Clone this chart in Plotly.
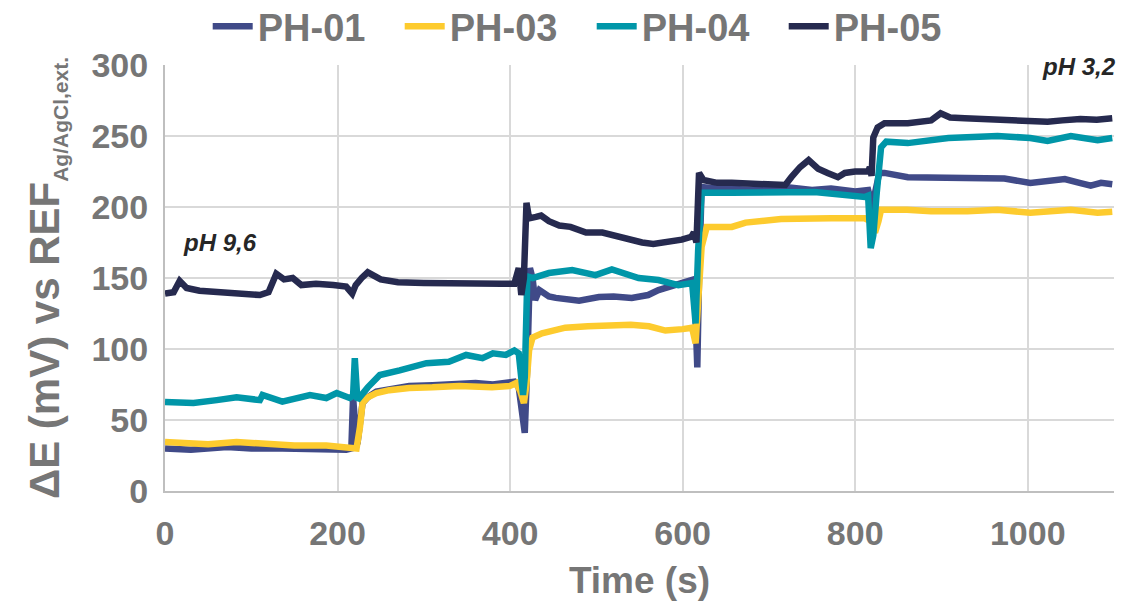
import plotly.graph_objects as go

# ── data ──────────────────────────────────────────────────────────────────────
t_ph01 = [0, 30, 72, 100, 136, 160, 187, 210, 216, 218, 220, 223, 229, 235, 245, 260, 283,
          310, 341, 360, 380, 405, 410, 413, 417, 420, 423, 426, 429, 434, 445, 453, 480,
          503, 520, 541, 560, 572, 590, 611, 614, 617, 619, 622, 640, 657, 690, 719, 750,
          772, 800, 815, 818, 820, 823, 828, 834, 861, 890, 927, 950, 973, 1003, 1020,
          1043, 1060, 1073, 1085, 1098]
v_ph01 = [30, 29, 31, 30, 30, 29.5, 29, 29, 30, 66, 50, 33, 62, 66, 70, 72, 74,
          74.5, 75.5, 76, 75, 77, 73, 60, 41, 90, 157, 150, 134.5, 141.5, 137, 136, 134,
          136.6, 137, 136, 138, 141.5, 145, 148.6, 140, 87, 150, 214, 213, 213, 212, 214, 212,
          213, 211, 212, 205, 195, 210, 224, 224, 221, 221, 221, 220, 220, 217, 218,
          219.7, 217, 215, 217, 216]

t_ph03 = [0, 30, 50, 83, 120, 150, 187, 215, 222, 226, 229, 235, 245, 260, 283, 310, 341,
          379, 400, 407, 412, 416, 419, 422, 426, 437, 464, 490, 514, 540, 561, 580, 600,
          611, 615, 619, 622, 628, 657, 673, 714, 772, 811, 818, 823, 827, 830, 860, 888,
          930, 965, 1003, 1050, 1081, 1098]
v_ph03 = [34.5, 33, 33, 34.5, 33, 32, 32, 31, 30, 45, 62, 66, 69, 71, 72.5, 73, 74,
          73, 74, 76, 70, 62, 75, 99, 108, 111, 115, 116, 117, 117, 116, 113, 114,
          115, 104, 150, 172, 186, 186, 189, 191.5, 192, 192, 190, 182, 190, 198, 198, 197,
          197, 198, 196, 198, 196, 196.7]

t_ph04 = [0, 33, 60, 83, 110, 113, 136, 168, 187, 199, 214, 218, 220, 223, 235, 249, 272,
          303, 329, 349, 368, 380, 395, 405, 410, 415, 417, 420, 426, 445, 472, 499, 518,
          549, 572, 595, 611, 615, 618, 622, 657, 714, 753, 811, 815, 818, 821, 825, 830,
          836, 861, 908, 965, 1003, 1023, 1050, 1081, 1098]
v_ph04 = [62.7, 62, 64, 66, 64, 67.6, 63, 67.6, 65.5, 69, 65.5, 67, 93.6, 64, 73, 81.7, 85,
          90, 91, 95.8, 93.6, 97, 95.8, 99, 97, 67.6, 80, 151, 150, 153.5, 155.6, 152, 156,
          150, 148.6, 145, 146.5, 118, 170, 210, 210, 210.5, 210.5, 207, 208, 171, 180, 210, 242,
          246, 245, 248.6, 250, 248.6, 246.5, 250, 247, 248.6]

t_ph05 = [0, 10, 17, 25, 40, 60, 80, 100, 110, 120, 129, 138, 148, 158, 175, 195, 210, 217,
          221, 228, 235, 250, 270, 300, 330, 360, 390, 405, 408, 410, 413, 416, 419, 422,
          430, 436, 445, 457, 470, 488, 507, 520, 534, 553, 566, 580, 599, 610, 613, 616,
          619, 624, 640, 657, 690, 719, 726, 736, 746, 757, 768, 780, 788, 800, 815, 817,
          819, 821, 826, 834, 861, 875, 888, 899, 910, 927, 945, 965, 990, 1023, 1040,
          1061, 1080, 1098]
v_ph05 = [139, 140, 148, 143, 141, 140, 139, 138.5, 138, 140, 153, 149, 150, 145, 146, 145, 144, 139,
          145, 150, 154, 149, 147, 146.5, 146, 145.5, 146, 146, 152, 157, 138, 150, 203, 192,
          193, 194, 190, 187, 186, 182, 182, 180, 177, 175, 174, 175, 177, 179, 182, 175,
          224, 219, 217, 217, 216, 215.5, 221, 228, 233, 227, 224, 221, 224, 225, 225, 228,
          222, 249, 256, 259, 259, 260, 261, 266, 263, 262.5, 262, 261, 260.5, 260, 261,
          262, 261.5, 262.5]

series = [
    ("PH-01", t_ph01, v_ph01, "#404A88"),
    ("PH-03", t_ph03, v_ph03, "#FDCB2E"),
    ("PH-04", t_ph04, v_ph04, "#0096A8"),
    ("PH-05", t_ph05, v_ph05, "#262A4F"),
]

GREY = "#767676"
FONT = "Liberation Sans, Arial, sans-serif"

fig = go.Figure()
for name, t, v, colour in series:
    fig.add_trace(go.Scatter(
        x=t, y=v, name=name, mode="lines",
        line=dict(color=colour, width=6.5),
    ))

# pH labels
fig.add_annotation(x=64, y=175, text="<b><i>pH 9,6</i></b>", showarrow=False,
                   font=dict(family=FONT, size=24, color="#262626"))
fig.add_annotation(x=1060, y=299, text="<b><i>pH 3,2</i></b>", showarrow=False,
                   font=dict(family=FONT, size=24, color="#262626"))

# page body adds an 8px offset, so the figure is 8px smaller than the window
fig.update_layout(
    width=1116, height=597,
    margin=dict(l=157, r=10, t=57, b=114, autoexpand=False),
    paper_bgcolor="white", plot_bgcolor="white",
    font=dict(family=FONT, color=GREY),
    showlegend=True,
    legend=dict(
        orientation="h", x=0.045, xanchor="left", y=1.09, yanchor="middle",
        font=dict(family=FONT, size=38, color=GREY, weight="bold"),
        entrywidth=137, itemwidth=40,
    ),
    xaxis=dict(
        range=[0, 1100], dtick=200, tick0=0,
        showgrid=True, gridcolor="#D9D9D9", gridwidth=2,
        showline=True, linecolor="#BFBFBF", linewidth=2,
        zeroline=False, ticks="", ticklabelstandoff=11,
        tickfont=dict(family=FONT, size=34, color=GREY, weight="bold"),
        title=dict(text="<b>Time (s)</b>", font=dict(family=FONT, size=37, color=GREY),
                   standoff=16),
    ),
    yaxis=dict(
        range=[0, 300], dtick=50,
        showgrid=True, gridcolor="#D9D9D9", gridwidth=2,
        showline=True, linecolor="#BFBFBF", linewidth=2,
        zeroline=False, ticks="", ticklabelstandoff=8,
        tickfont=dict(family=FONT, size=34, color=GREY, weight="bold"),
        title=dict(
            text="<b>ΔE (mV) vs REF<sub><span style='font-size:21px'>Ag/AgCl,ext.</span></sub></b>",
            font=dict(family=FONT, size=42, color=GREY),
            standoff=19,
        ),
    ),
)

fig.write_html("out.html")
